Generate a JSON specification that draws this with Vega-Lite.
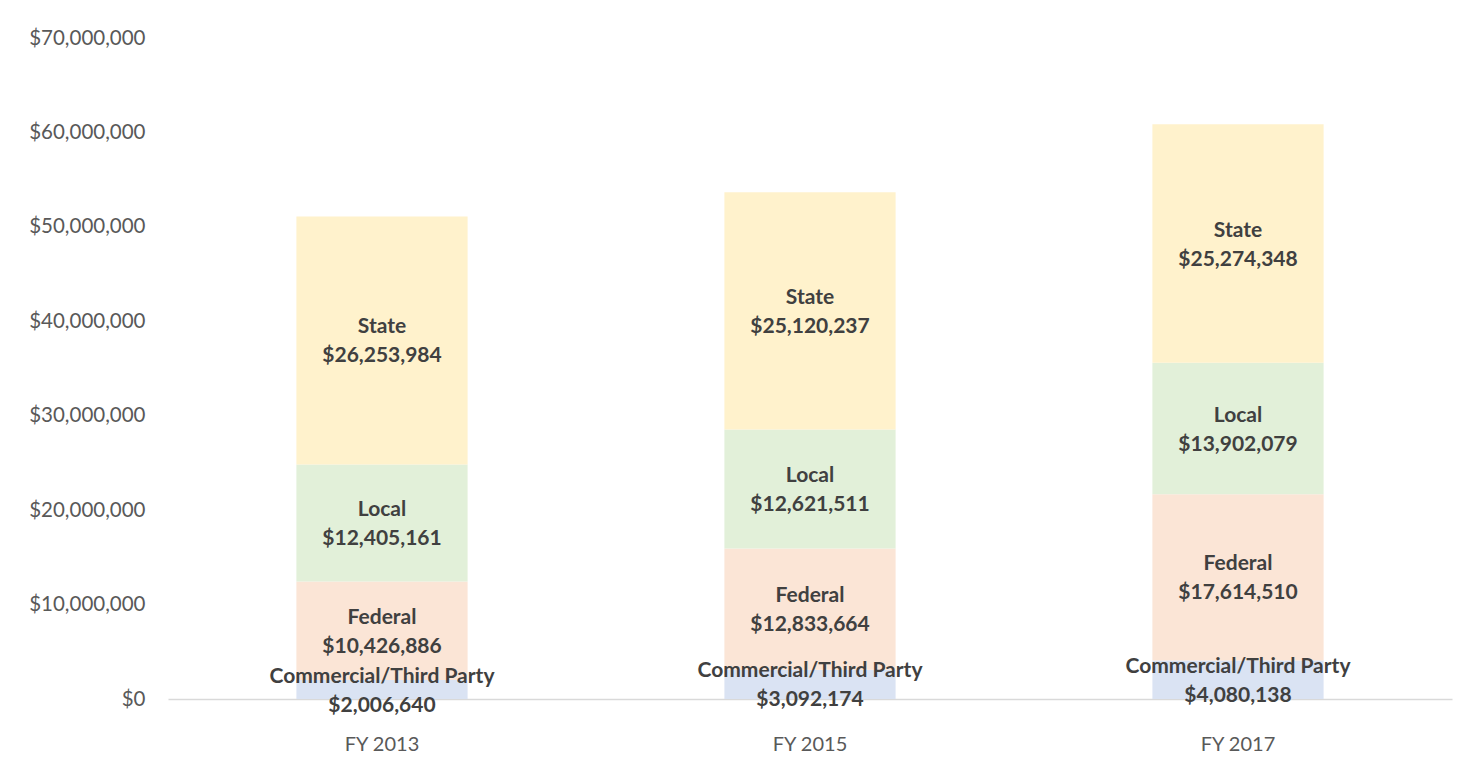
{
  "$schema": "https://vega.github.io/schema/vega-lite/v6.json",
  "width": 1284,
  "height": 661,
  "autosize": {"type": "none"},
  "padding": {"left": 168, "top": 38, "right": 19, "bottom": 76},
  "background": "white",
  "config": {"view": {"stroke": null}, "font": "Lato"},
  "data": {
    "values": [
      {"year": "FY 2013", "source": "Commercial/Third Party", "order": 1, "amount": 2006640},
      {"year": "FY 2013", "source": "Federal", "order": 2, "amount": 10426886},
      {"year": "FY 2013", "source": "Local", "order": 3, "amount": 12405161},
      {"year": "FY 2013", "source": "State", "order": 4, "amount": 26253984},
      {"year": "FY 2015", "source": "Commercial/Third Party", "order": 1, "amount": 3092174},
      {"year": "FY 2015", "source": "Federal", "order": 2, "amount": 12833664},
      {"year": "FY 2015", "source": "Local", "order": 3, "amount": 12621511},
      {"year": "FY 2015", "source": "State", "order": 4, "amount": 25120237},
      {"year": "FY 2017", "source": "Commercial/Third Party", "order": 1, "amount": 4080138},
      {"year": "FY 2017", "source": "Federal", "order": 2, "amount": 17614510},
      {"year": "FY 2017", "source": "Local", "order": 3, "amount": 13902079},
      {"year": "FY 2017", "source": "State", "order": 4, "amount": 25274348}
    ]
  },
  "transform": [
    {"stack": "amount", "groupby": ["year"], "sort": [{"field": "order", "order": "ascending"}], "as": ["y0", "y1"]},
    {"calculate": "(datum.y0 + datum.y1) / 2", "as": "mid"},
    {"calculate": "datum.source + '|' + format(datum.amount, '$,')", "as": "label"}
  ],
  "encoding": {
    "x": {
      "field": "year", "type": "nominal",
      "scale": {"paddingInner": 0.6, "paddingOuter": 0.3},
      "axis": {
        "title": null, "labelAngle": 0, "ticks": false,
        "domainColor": "#d9d9d9", "domainWidth": 1.5,
        "labelColor": "#595959", "labelFontSize": 20, "labelPadding": 35, "labelFont": "Lato"
      }
    }
  },
  "layer": [
    {
      "mark": {"type": "bar"},
      "encoding": {
        "y": {
          "field": "y0", "type": "quantitative", "title": null,
          "scale": {"domain": [0, 70000000], "nice": false},
          "axis": {
            "title": null, "values": [0, 10000000, 20000000, 30000000, 40000000, 50000000, 60000000, 70000000],
            "format": "$,.0f", "grid": false, "domain": false, "ticks": false, "labelOverlap": false,
            "labelColor": "#595959", "labelFontSize": 20.5, "labelPadding": 23, "labelFont": "Lato"
          }
        },
        "y2": {"field": "y1"},
        "color": {
          "field": "source", "type": "nominal", "legend": null,
          "scale": {
            "domain": ["Commercial/Third Party", "Federal", "Local", "State"],
            "range": ["#dae3f3", "#fbe5d6", "#e2f0d9", "#fff2cc"]
          }
        }
      }
    },
    {
      "mark": {"type": "text", "lineBreak": "|", "fontWeight": "bold", "fontSize": 21, "lineHeight": 29, "color": "#404040", "baseline": "middle", "align": "center", "dy": -13, "font": "Lato"},
      "encoding": {
        "y": {
          "field": "mid", "type": "quantitative", "title": null,
          "scale": {"domain": [0, 70000000], "nice": false},
          "axis": {
            "title": null, "values": [0, 10000000, 20000000, 30000000, 40000000, 50000000, 60000000, 70000000],
            "format": "$,.0f", "grid": false, "domain": false, "ticks": false, "labelOverlap": false,
            "labelColor": "#595959", "labelFontSize": 20.5, "labelPadding": 23, "labelFont": "Lato"
          }
        },
        "text": {"field": "label", "type": "nominal"}
      }
    }
  ]
}
